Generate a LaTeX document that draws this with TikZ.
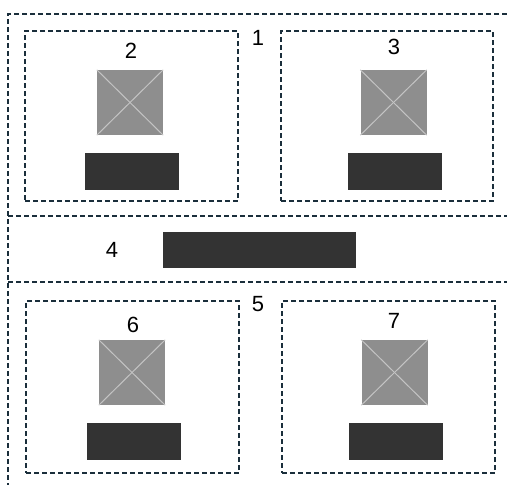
\documentclass[tikz,border=0pt]{standalone}
\usepackage{fontspec}
\setmainfont{Liberation Sans}
\definecolor{dashc}{HTML}{1A2E3B}
\definecolor{sqc}{HTML}{8E8E8E}
\definecolor{xc}{HTML}{C4C4C4}
\definecolor{barc}{HTML}{333333}
\begin{document}
\begin{tikzpicture}[x=1pt,y=-1pt,
  dline/.style={draw=dashc,line width=1.4pt,dash pattern=on 5pt off 3pt},
  frame/.style={dline,rectangle,inner sep=0pt},
  sq/.style={fill=sqc,rectangle,inner sep=0pt,minimum width=66pt,minimum height=65pt},
  bar/.style={fill=barc,rectangle,inner sep=0pt,minimum width=94pt,minimum height=37pt},
  lbl/.style={inner sep=0pt,font=\fontsize{22pt}{22pt}\selectfont},
  xline/.style={draw=xc,line width=1pt}]
\useasboundingbox (0,0) rectangle (507,485);
% outer frame lines
\coordinate (tl) at (8,14);
\coordinate (tr) at (507,14);
\coordinate (bl) at (8,485);
\coordinate (m1l) at (8,216);
\coordinate (m1r) at (507,216);
\coordinate (m2l) at (8,282);
\coordinate (m2r) at (507,282);
\draw[dline] (tr) -- (tl) -- (bl);
\draw[dline] (m1l) -- (m1r);
\draw[dline] (m2l) -- (m2r);
% inner boxes
\node[frame,minimum width=213pt,minimum height=170pt] (b2) at (131.5,116) {};
\node[frame,minimum width=212pt,minimum height=170pt] (b3) at (387,116) {};
\node[frame,minimum width=213pt,minimum height=172pt] (b6) at (132.5,387) {};
\node[frame,minimum width=213pt,minimum height=172pt] (b7) at (388.5,387) {};
% labels
\node[lbl] (l1) at (258,38) {1};
\node[lbl] (l2) at (131,51) {2};
\node[lbl] (l3) at (394,47) {3};
\node[lbl] (l4) at (112,250) {4};
\node[lbl] (l5) at (258,304) {5};
\node[lbl] (l6) at (133,325) {6};
\node[lbl] (l7) at (394,321) {7};
% squares with crosses
\node[sq] (s2) at (130,102.5) {};
\node[sq] (s3) at (393.5,102.5) {};
\node[sq] (s6) at (132,372.5) {};
\node[sq] (s7) at (394.5,372.5) {};
\foreach \s in {s2,s3,s6,s7}{
  \draw[xline] (\s.north west) -- (\s.south east);
  \draw[xline] (\s.north east) -- (\s.south west);
}
% dark bars
\node[bar] (r2) at (132,171.5) {};
\node[bar] (r3) at (395,171.5) {};
\node[bar] (r6) at (134,441.5) {};
\node[bar] (r7) at (396,441.5) {};
\node[bar,minimum width=193pt,minimum height=36pt] (r4) at (259.5,250) {};
\end{tikzpicture}
\end{document}
